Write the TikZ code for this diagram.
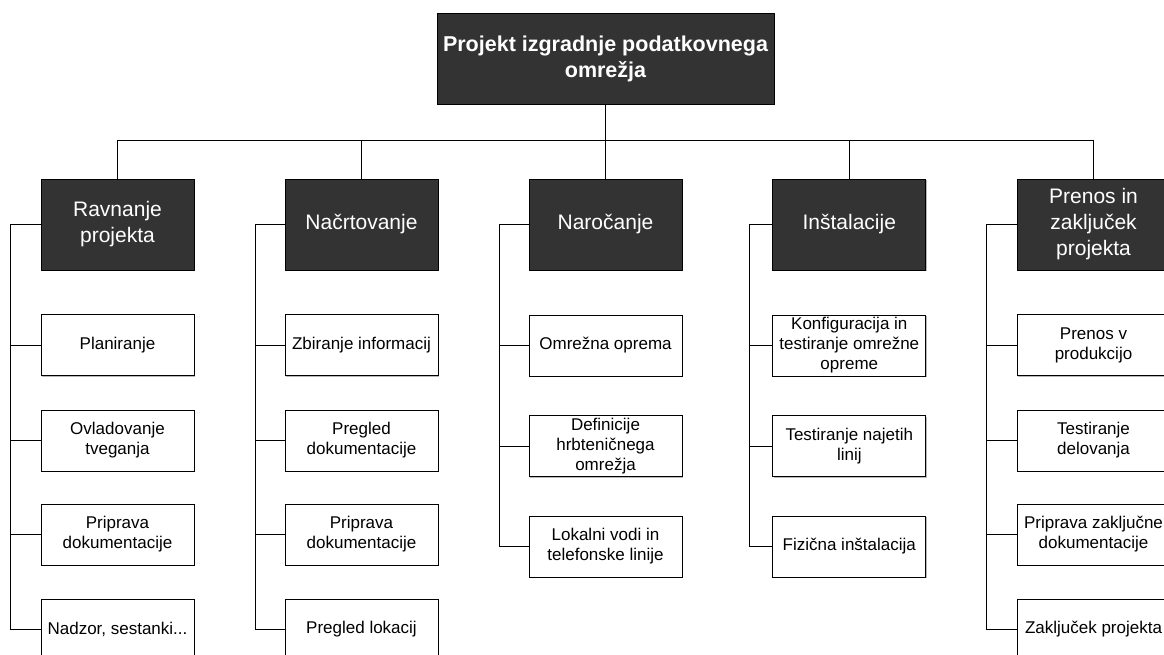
\documentclass[tikz,border=0pt]{standalone}
\usepackage{fontspec}
\setmainfont{Liberation Sans}
\usetikzlibrary{shadows}
\definecolor{boxdark}{HTML}{333333}
\definecolor{shadowgray}{HTML}{B8B8B8}
\begin{document}
\begin{tikzpicture}[x=1pt,y=-1pt,
  wire/.style={draw=black,line width=0.9pt},
  rootbox/.style={draw=black,fill=boxdark,text=white,line width=0.8pt,
    minimum width=337pt,minimum height=91pt,align=center,inner sep=0pt,
    font=\fontsize{21.5}{26}\selectfont\bfseries,
    drop shadow={shadow xshift=1pt,shadow yshift=-1pt,fill=shadowgray,opacity=1}},
  phasebox/.style={draw=black,fill=boxdark,text=white,line width=0.8pt,
    minimum width=153pt,minimum height=91pt,align=center,inner sep=0pt,
    font=\fontsize{21}{26}\selectfont,
    drop shadow={shadow xshift=1pt,shadow yshift=-1pt,fill=shadowgray,opacity=1}},
  taskbox/.style={draw=black,fill=white,line width=0.8pt,
    minimum width=153pt,minimum height=61pt,align=center,inner sep=0pt,
    font=\fontsize{17}{20}\selectfont,
    drop shadow={shadow xshift=1pt,shadow yshift=-1pt,fill=shadowgray,opacity=1}}
]
\useasboundingbox (0,0) rectangle (1164,655);

% root
\node[rootbox] (root) at (605.5,58.5) {Projekt izgradnje podatkovnega\\omrežja};

% phases
\node[phasebox] (p1) at (117.5,224.5) {Ravnanje\\projekta};
\node[phasebox] (p2) at (361.5,224.5) {Načrtovanje};
\node[phasebox] (p3) at (605.5,224.5) {Naročanje};
\node[phasebox] (p4) at (849.3,224.5) {Inštalacije};
\node[phasebox] (p5) at (1093.5,224.5) {Prenos in\\zaključek\\projekta};

% tasks, column 1
\node[taskbox] (a1) at (117.5,345) {Planiranje};
\node[taskbox] (a2) at (117.5,440.5) {Ovladovanje\\tveganja};
\node[taskbox] (a3) at (117.5,534.5) {Priprava\\dokumentacije};
\node[taskbox] (a4) at (117.5,629.5) {Nadzor, sestanki...};

% tasks, column 2
\node[taskbox] (b1) at (361.5,345) {Zbiranje informacij};
\node[taskbox] (b2) at (361.5,440.5) {Pregled\\dokumentacije};
\node[taskbox] (b3) at (361.5,534.5) {Priprava\\dokumentacije};
\node[taskbox] (b4) at (361.5,629.5) {Pregled lokacij};

% tasks, column 3
\node[taskbox] (c1) at (605.5,345.5) {Omrežna oprema};
\node[taskbox] (c2) at (605.5,446) {Definicije\\hrbteničnega\\omrežja};
\node[taskbox] (c3) at (605.5,546.5) {Lokalni vodi in\\telefonske linije};

% tasks, column 4
\node[taskbox] (d1) at (849.3,345.5) {Konfiguracija in\\testiranje omrežne\\opreme};
\node[taskbox] (d2) at (849.3,446) {Testiranje najetih\\linij};
\node[taskbox] (d3) at (849.3,546.5) {Fizična inštalacija};

% tasks, column 5
\node[taskbox] (e1) at (1093.5,345) {Prenos v\\produkcijo};
\node[taskbox] (e2) at (1093.5,440.5) {Testiranje\\delovanja};
\node[taskbox] (e3) at (1093.5,534.5) {Priprava zaključne\\dokumentacije};
\node[taskbox] (e4) at (1093.5,629.5) {Zaključek projekta};

% bus from the root to the phases
\coordinate (busL) at (117.5,140);
\coordinate (busR) at (1093.5,140);
\draw[wire] (busL) -- (busR);
\draw[wire] (root.south) -- (p3.north);
\draw[wire] (p1.north) -- (busL);
\draw[wire] (p2.north) -- (p2.north |- busL);
\draw[wire] (p4.north) -- (p4.north |- busL);
\draw[wire] (p5.north) -- (busR);

% spines on the left of each column
\coordinate (s1) at (10.7,629.5);
\coordinate (s2) at (255,629.5);
\coordinate (s3) at (499,546.5);
\coordinate (s4) at (749,546.5);
\coordinate (s5) at (986.7,629.5);

\draw[wire] (p1.west) -| (s1) -- (a4.west);
\foreach \t in {a1,a2,a3} \draw[wire] (\t.west) -- (\t.west -| s1);
\draw[wire] (p2.west) -| (s2) -- (b4.west);
\foreach \t in {b1,b2,b3} \draw[wire] (\t.west) -- (\t.west -| s2);
\draw[wire] (p3.west) -| (s3) -- (c3.west);
\foreach \t in {c1,c2} \draw[wire] (\t.west) -- (\t.west -| s3);
\draw[wire] (p4.west) -| (s4) -- (d3.west);
\foreach \t in {d1,d2} \draw[wire] (\t.west) -- (\t.west -| s4);
\draw[wire] (p5.west) -| (s5) -- (e4.west);
\foreach \t in {e1,e2,e3} \draw[wire] (\t.west) -- (\t.west -| s5);
\end{tikzpicture}
\end{document}
